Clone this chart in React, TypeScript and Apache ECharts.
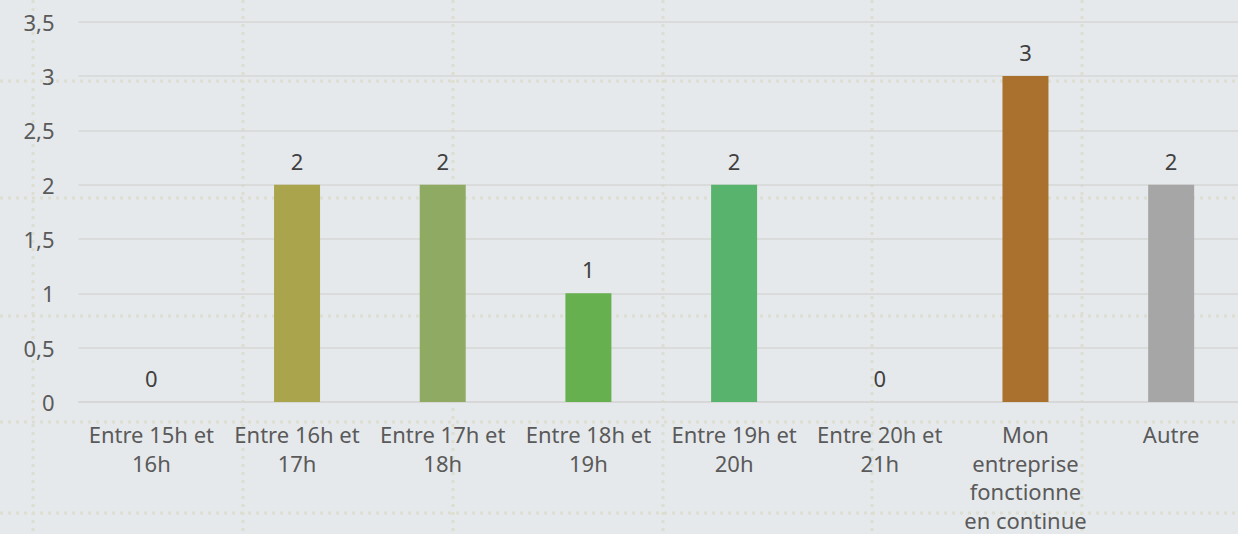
import React, { useEffect, useRef } from "react";
import * as echarts from "echarts";

const categories = [
  "Entre 15h et\n16h",
  "Entre 16h et\n17h",
  "Entre 17h et\n18h",
  "Entre 18h et\n19h",
  "Entre 19h et\n20h",
  "Entre 20h et\n21h",
  "Mon\nentreprise\nfonctionne\nen continue",
  "Autre",
];
const values = [0, 2, 2, 1, 2, 0, 3, 2];
const barColors = ["#a9a24c", "#aaa54d", "#8faa62", "#66b050", "#58b46d", "#5fae8a", "#aa702d", "#a6a6a6"];
const yTicks = { min: 0, max: 3.5, interval: 0.5 };

const dotColor = "#dcded0";
const vDots = [33, 243, 453, 663, 872, 1082];
const hDots = [81, 198, 316, 422, 513];

export default function App() {
  const ref = useRef<HTMLDivElement>(null);
  useEffect(() => {
    if (!ref.current) return;
    const chart = echarts.init(ref.current, null, { renderer: "svg" });
    const font = "'Noto Sans', 'Open Sans', sans-serif";
    const graphics: any[] = [];
    vDots.forEach((x) =>
      graphics.push({
        type: "line",
        silent: true,
        z: -10,
        shape: { x1: x, y1: 0, x2: x, y2: 534 },
        style: { stroke: dotColor, lineWidth: 3, lineDash: [3, 5] },
      })
    );
    hDots.forEach((y) =>
      graphics.push({
        type: "line",
        silent: true,
        z: -10,
        shape: { x1: 0, y1: y, x2: 1244, y2: y },
        style: { stroke: dotColor, lineWidth: 3, lineDash: [3, 5] },
      })
    );
    chart.setOption({
      animation: false,
      backgroundColor: "#e6e9ec",
      graphic: { elements: graphics },
      grid: { left: 78.5, right: 0, top: 21.7, bottom: 129.3, containLabel: false },
      xAxis: {
        type: "category",
        data: categories,
        axisLine: { show: true, lineStyle: { color: "#d6d6d6", width: 1.5 } },
        axisTick: { show: false },
        axisLabel: {
          color: "#5a5a5a",
          fontSize: 22,
          fontFamily: font,
          lineHeight: 28.5,
          margin: 18,
          interval: 0,
        },
      },
      yAxis: {
        type: "value",
        min: yTicks.min,
        max: yTicks.max,
        interval: yTicks.interval,
        axisLine: { show: false },
        axisTick: { show: false },
        splitLine: { lineStyle: { color: "#d6d6d6", width: 1.5 } },
        axisLabel: {
          color: "#5a5a5a",
          fontSize: 22,
          fontFamily: font,
          margin: 24,
          formatter: (v: number) => String(v).replace(".", ","),
        },
      },
      series: [
        {
          type: "bar",
          barWidth: 46,
          data: values.map((v, i) => ({ value: v, itemStyle: { color: barColors[i] } })),
          label: {
            show: true,
            position: "top",
            distance: 13,
            color: "#404040",
            fontSize: 22,
            fontFamily: font,
          },
        },
      ],
    });
    return () => chart.dispose();
  }, []);
  return (
    <div
      style={{
        position: "absolute",
        left: 0,
        top: 0,
        width: 1238,
        height: 534,
        overflow: "hidden",
        background: "#e6e9ec",
      }}
    >
      <div ref={ref} style={{ width: 1244, height: 534 }} />
    </div>
  );
}
